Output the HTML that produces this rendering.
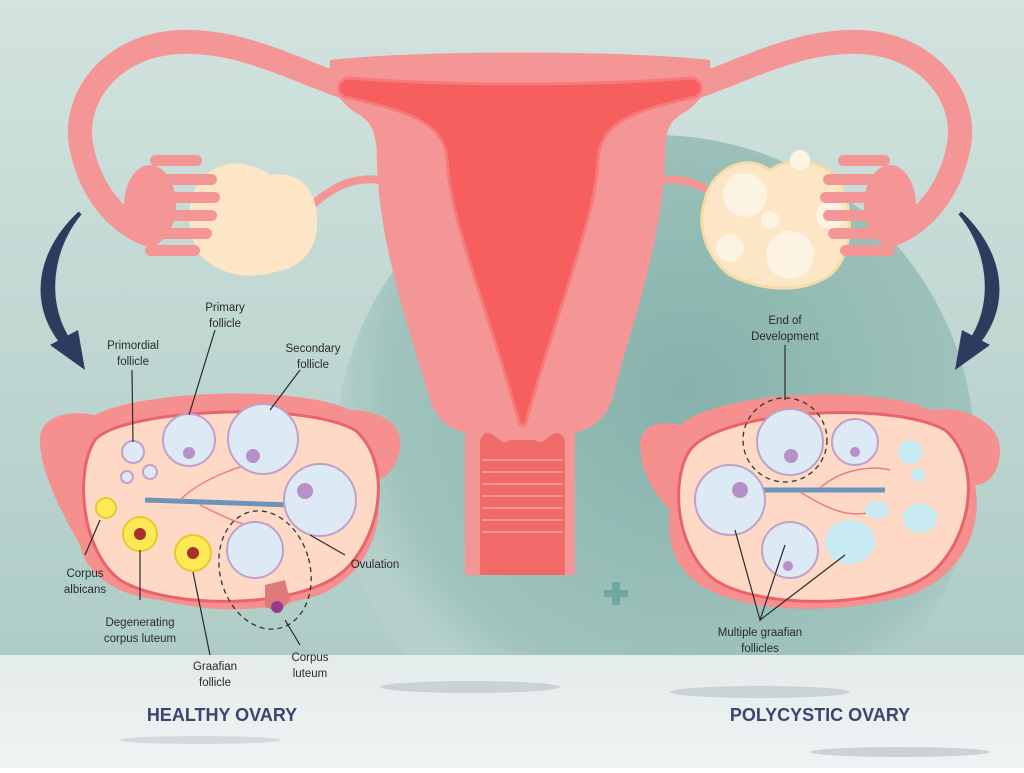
<!DOCTYPE html>
<html><head><meta charset="utf-8"><style>
body{margin:0;width:1024px;height:768px;overflow:hidden;font-family:"Liberation Sans",sans-serif}
svg text{font-family:"Liberation Sans",sans-serif;font-size:11.5px;fill:#2a2a2a}
</style></head><body>
<svg width="1024" height="768" viewBox="0 0 1024 768">
<defs>
<linearGradient id="bg" x1="0" y1="0" x2="0" y2="1"><stop offset="0" stop-color="#d3e3df"/><stop offset="1" stop-color="#a8c8c2"/></linearGradient>
<radialGradient id="circ" cx="0.55" cy="0.4" r="0.55"><stop offset="0" stop-color="#86b2ab"/><stop offset="0.85" stop-color="#a0c3bd"/><stop offset="1" stop-color="#b5d0cb"/></radialGradient>
<linearGradient id="fl" x1="0" y1="0" x2="0" y2="1"><stop offset="0" stop-color="#e4ebeb"/><stop offset="1" stop-color="#f0f3f3"/></linearGradient>
</defs>
<rect width="1024" height="768" fill="url(#bg)"/>
<circle cx="655" cy="455" r="320" fill="url(#circ)"/>
<rect y="655" width="1024" height="113" fill="url(#fl)"/>
<ellipse cx="470" cy="687" rx="90" ry="6" fill="#c9d3d6"/>
<ellipse cx="760" cy="692" rx="90" ry="6" fill="#c9d3d6"/>
<ellipse cx="900" cy="752" rx="90" ry="5" fill="#c9d3d6"/>
<ellipse cx="200" cy="740" rx="80" ry="4" fill="#d3dadd"/>
<rect x="604" y="590" width="24" height="7" fill="#6fa8a0"/><rect x="612" y="582" width="8" height="23" fill="#6fa8a0"/>
<g fill="none" stroke="#f59696" stroke-width="24" stroke-linecap="round">
<path d="M370 95 C300 75 250 40 180 42 C110 45 70 100 82 150 C92 195 120 225 150 235"/>
<path d="M670 95 C740 75 790 40 860 42 C930 45 970 100 958 150 C948 195 920 225 890 235"/>
</g>
<path d="M380 180 C340 175 320 200 300 215" fill="none" stroke="#f59696" stroke-width="8"/>
<path d="M660 180 C700 175 720 200 740 215" fill="none" stroke="#f59696" stroke-width="8"/>
<path d="M205 175 C230 155 255 165 270 175 C300 170 315 190 317 215 C320 250 300 268 275 272 C240 282 215 270 200 255 C185 230 185 195 205 175Z" fill="#fde6c6"/>
<path d="M835 175 C810 155 785 160 770 170 C740 150 710 175 705 200 C695 230 710 260 730 275 C760 290 800 295 830 275 C855 255 855 200 835 175Z" fill="#fde6c6" stroke="#f5dca6" stroke-width="3"/>
<g fill="#fdf3e2"><circle cx="745" cy="195" r="22"/><circle cx="790" cy="255" r="24"/><circle cx="730" cy="248" r="14"/><circle cx="800" cy="160" r="10"/><circle cx="830" cy="215" r="14"/><circle cx="770" cy="220" r="9"/></g>
<g id="fimL" fill="#f59696">
<ellipse cx="150" cy="205" rx="26" ry="40"/>
<rect x="150" y="155" width="52" height="11" rx="5.5"/>
<rect x="155" y="174" width="62" height="11" rx="5.5"/><rect x="160" y="192" width="60" height="11" rx="5.5"/>
<rect x="155" y="210" width="62" height="11" rx="5.5"/><rect x="150" y="228" width="62" height="11" rx="5.5"/>
<rect x="145" y="245" width="55" height="11" rx="5.5"/>
</g>
<use href="#fimL" transform="translate(1040 0) scale(-1 1)"/>
<path d="M330 60 C420 50 620 50 710 60 C712 85 700 105 680 115 C665 125 665 140 665 165 C660 250 630 330 612 400 C605 420 590 430 575 432 L575 575 L465 575 L465 432 C450 430 437 420 430 400 C410 330 380 250 377 165 C377 140 375 125 360 115 C340 105 328 85 330 60Z" fill="#f59696"/>
<path d="M350 78 C450 86 590 86 690 78 C705 78 705 98 690 98 C640 110 600 120 598 160 C595 220 560 300 525 425 L520 425 C485 300 450 220 447 160 C445 120 400 110 350 98 C335 98 335 78 350 78Z" fill="#f75f5f" stroke="#f67a7a" stroke-width="3"/>
<path d="M480 440 C490 420 500 450 510 440 L535 440 C545 450 555 420 565 440 L565 575 L480 575Z" fill="#f06a6a"/>
<g stroke="#f59696" stroke-width="2">
<line x1="482" y1="460" x2="563" y2="460"/><line x1="482" y1="472" x2="563" y2="472"/><line x1="482" y1="484" x2="563" y2="484"/><line x1="482" y1="496" x2="563" y2="496"/><line x1="482" y1="508" x2="563" y2="508"/><line x1="482" y1="520" x2="563" y2="520"/><line x1="482" y1="532" x2="563" y2="532"/></g>
<path d="M80 213 C40 250 30 300 60 340 L66 336 C45 300 50 250 80 213Z" fill="#2e3b5e" stroke="#2e3b5e" stroke-width="4"/>
<path d="M50 345 L85 370 L78 330Z" fill="#2e3b5e"/>
<path d="M960 213 C1000 250 1010 300 980 340 L974 336 C995 300 990 250 960 213Z" fill="#2e3b5e" stroke="#2e3b5e" stroke-width="4"/>
<path d="M990 345 L955 370 L962 330Z" fill="#2e3b5e"/>
<path d="M40 440 C40 415 70 410 95 415 C140 390 300 385 350 410 C380 410 405 425 400 450 C395 470 385 480 375 480 C390 530 360 590 300 600 C250 615 200 610 160 600 C110 595 85 570 80 545 C60 510 40 470 40 440Z" fill="#f5908e"/>
<path d="M95 440 C120 410 300 400 355 430 C390 460 385 530 345 570 C300 610 170 610 120 580 C80 550 75 470 95 440Z" fill="#fdd9c6" stroke="#e8646a" stroke-width="3"/>
<path d="M640 445 C640 425 660 420 680 425 C720 390 880 385 930 410 C960 405 1000 420 1000 450 C1000 470 990 485 975 485 C985 540 950 590 890 600 C820 615 760 610 720 595 C680 580 665 550 670 510 C650 490 640 465 640 445Z" fill="#f5908e"/>
<path d="M690 450 C720 410 890 400 945 430 C980 460 975 530 935 570 C890 610 760 610 715 580 C675 550 670 480 690 450Z" fill="#fdd9c6" stroke="#e8646a" stroke-width="3"/>
<g stroke="#6d94b8" stroke-width="5" fill="none"><path d="M145 500 L290 505"/><path d="M760 490 L885 490"/></g>
<g stroke="#e88080" stroke-width="1.5" fill="none"><path d="M180 500 C200 480 230 470 260 460"/><path d="M200 505 C230 520 250 530 270 525"/><path d="M800 492 C830 510 850 520 880 510"/><path d="M820 488 C840 470 870 465 890 470"/></g>
<g stroke="#c3a0c8" stroke-width="2" fill="#dde9f5">
<circle cx="133" cy="452" r="11"/><circle cx="150" cy="472" r="7"/><circle cx="127" cy="477" r="6"/>
<circle cx="189" cy="440" r="26"/><circle cx="263" cy="439" r="35"/><circle cx="320" cy="500" r="36"/><circle cx="255" cy="550" r="28"/>
<circle cx="855" cy="442" r="23"/><circle cx="790" cy="442" r="33"/><circle cx="730" cy="500" r="35"/><circle cx="790" cy="550" r="28"/>
</g>
<g fill="#c8eaf2"><ellipse cx="850" cy="542" rx="25" ry="22"/><ellipse cx="920" cy="518" rx="17" ry="15"/><ellipse cx="877" cy="510" rx="12" ry="9"/><ellipse cx="910" cy="452" rx="12" ry="12"/><ellipse cx="918" cy="475" rx="7" ry="7"/></g>
<g fill="#b690c7"><circle cx="189" cy="453" r="6"/><circle cx="253" cy="456" r="7"/><circle cx="305" cy="491" r="8"/><circle cx="791" cy="456" r="7"/><circle cx="855" cy="452" r="5"/><circle cx="740" cy="490" r="8"/><circle cx="788" cy="566" r="5"/></g>
<g fill="#fbea56" stroke="#e8c830" stroke-width="2">
<circle cx="106" cy="508" r="10"/><circle cx="140" cy="534" r="17"/><circle cx="193" cy="553" r="18"/></g>
<g fill="#a7302c"><circle cx="140" cy="534" r="6"/><circle cx="193" cy="553" r="6"/></g>
<path d="M265 585 l20 -5 5 20 -10 12 -15 -5z" fill="#e07a7a"/><circle cx="277" cy="607" r="6" fill="#9a3a88"/>
<ellipse cx="265" cy="570" rx="45" ry="60" fill="none" stroke="#333" stroke-width="1.3" stroke-dasharray="5 4" transform="rotate(-15 265 570)"/>
<circle cx="785" cy="440" r="42" fill="none" stroke="#333" stroke-width="1.3" stroke-dasharray="5 4"/>
<g stroke="#2a2a2a" stroke-width="1.2" fill="none">
<line x1="132" y1="370" x2="133" y2="442"/><line x1="215" y1="330" x2="189" y2="415"/><line x1="300" y1="370" x2="270" y2="410"/>
<line x1="310" y1="535" x2="345" y2="555"/><line x1="100" y1="520" x2="85" y2="555"/><line x1="140" y1="550" x2="140" y2="600"/>
<line x1="193" y1="572" x2="210" y2="655"/><line x1="285" y1="620" x2="300" y2="645"/><line x1="785" y1="345" x2="785" y2="400"/>
<path d="M735 530 L760 620 L785 545 M760 620 L845 555"/></g>
<g text-anchor="middle">
<text x="133" y="349">Primordial</text><text x="133" y="365">follicle</text>
<text x="225" y="311">Primary</text><text x="225" y="327">follicle</text>
<text x="313" y="352">Secondary</text><text x="313" y="368">follicle</text>
<text x="375" y="568">Ovulation</text>
<text x="85" y="577">Corpus</text><text x="85" y="593">albicans</text>
<text x="140" y="626">Degenerating</text><text x="140" y="642">corpus luteum</text>
<text x="215" y="670">Graafian</text><text x="215" y="686">follicle</text>
<text x="310" y="661">Corpus</text><text x="310" y="677">luteum</text>
<text x="785" y="324">End of</text><text x="785" y="340">Development</text>
<text x="760" y="636">Multiple graafian</text><text x="760" y="652">follicles</text>
<text x="222" y="721" style="font-size:18px;font-weight:bold;fill:#3a4670">HEALTHY OVARY</text>
<text x="820" y="721" style="font-size:18px;font-weight:bold;fill:#3a4670">POLYCYSTIC OVARY</text>
</g>
</svg>
</body></html>
